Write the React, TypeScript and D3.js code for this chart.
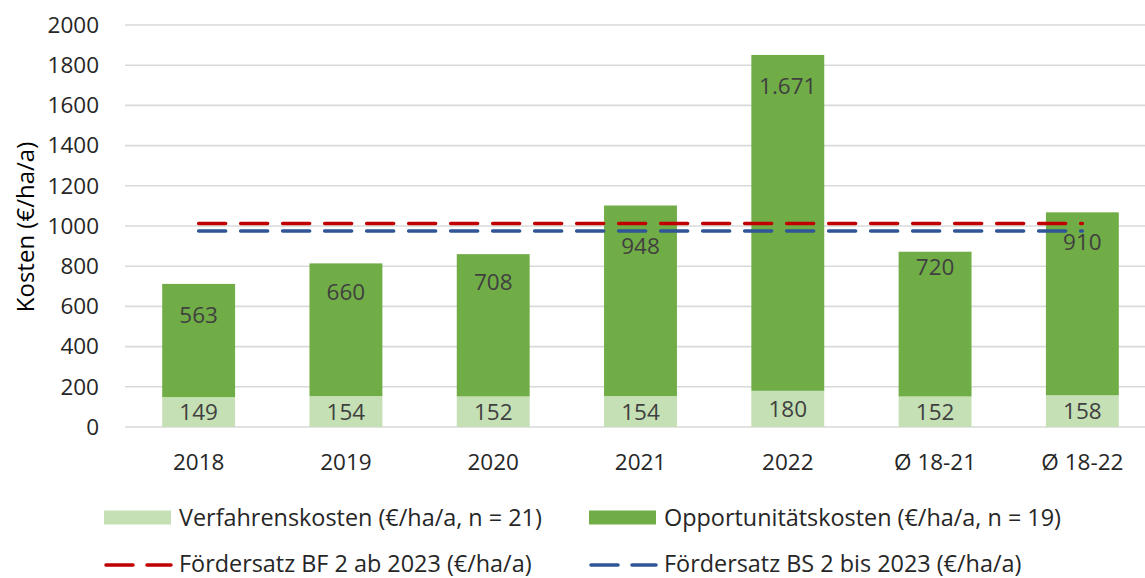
import React from 'react';
import * as d3 from 'd3';

const categories = ['2018', '2019', '2020', '2021', '2022', 'Ø 18-21', 'Ø 18-22'];
const verfahrenskosten = [149, 154, 152, 154, 180, 152, 158];
const opportunitaetskosten = [563, 660, 708, 948, 1671, 720, 910];
const foerdersatzBF = 1013;
const foerdersatzBS = 975;
const yTicks = [0, 200, 400, 600, 800, 1000, 1200, 1400, 1600, 1800, 2000];
const legendBars = ['Verfahrenskosten (€/ha/a, n = 21)', 'Opportunitätskosten (€/ha/a, n = 19)'];
const legendLines = ['Fördersatz BF 2 ab 2023 (€/ha/a)', 'Fördersatz BS 2 bis 2023 (€/ha/a)'];

const W = 1145;
const H = 578;
const font = '"Open Sans", sans-serif';
const colors = { light: '#C5E0B4', dark: '#70AD47', red: '#C00000', blue: '#2F5597', grid: '#D9D9D9' };

// Excel places the labels near the inside end, some of them nudged by hand
const labelDrop = [31, 29, 28, 40, 31, 15, 30];

const de = d3.formatLocale({ decimal: ',', thousands: '.', grouping: [3], currency: ['', ' €'] });
const fmt = de.format(',d');

const App = () => {
  const x = d3.scaleBand<string>().domain(categories).range([125, 1156]).padding(0);
  const y = d3.scaleLinear().domain([0, 2000]).range([427, 25]);
  const barW = x.bandwidth() * 0.495;
  const cx = (c: string) => (x(c) as number) + x.bandwidth() / 2;

  const stacked = categories.map((c, i) => ({
    c,
    v: verfahrenskosten[i],
    o: opportunitaetskosten[i],
  }));

  const line = (val: number) =>
    d3.line<string>().x(c => cx(c)).y(() => y(val))(categories) as string;

  const dash = '27 15';

  return (
    <div style={{ position: 'absolute', left: 0, top: 0 }}>
      <svg width={W} height={H} style={{ display: 'block', background: '#fff' }}>
        {/* gridlines */}
        {yTicks.map(t => (
          <line key={t} x1={125} x2={W} y1={y(t)} y2={y(t)} stroke={colors.grid} strokeWidth={1.6} />
        ))}
        {/* y tick labels */}
        {yTicks.map(t => (
          <text key={'l' + t} x={99} y={y(t)} dy="0.35em" textAnchor="end" fontFamily={font} fontSize={22.5} fill="#262626">
            {t}
          </text>
        ))}
        <text
          transform={`translate(26,227) rotate(-90)`}
          textAnchor="middle"
          dy="0.35em"
          fontFamily={font}
          fontSize={24}
          fill="#000"
        >
          Kosten (€/ha/a)
        </text>

        {/* bars */}
        {stacked.map((d, i) => (
          <g key={d.c}>
            <rect x={cx(d.c) - barW / 2} y={y(d.v)} width={barW} height={y(0) - y(d.v)} fill={colors.light} />
            <rect x={cx(d.c) - barW / 2} y={y(d.v + d.o)} width={barW} height={y(d.v) - y(d.v + d.o)} fill={colors.dark} />
            <text x={cx(d.c)} y={(y(0) + y(d.v)) / 2} dy="0.36em" textAnchor="middle" fontFamily={font} fontSize={22.5} fill="#404040">
              {fmt(d.v)}
            </text>
            <text x={cx(d.c)} y={y(d.v + d.o) + labelDrop[i]} dy="0.36em" textAnchor="middle" fontFamily={font} fontSize={22.5} fill="#404040">
              {fmt(d.o)}
            </text>
          </g>
        ))}

        {/* Fördersatz lines */}
        <path d={line(foerdersatzBF)} fill="none" stroke={colors.red} strokeWidth={3.5} strokeDasharray={dash} strokeLinecap="round" />
        <path d={line(foerdersatzBS)} fill="none" stroke={colors.blue} strokeWidth={3.5} strokeDasharray={dash} strokeLinecap="round" />

        {/* x labels */}
        {categories.map(c => (
          <text key={'x' + c} x={cx(c)} y={462} dy="0.35em" textAnchor="middle" fontFamily={font} fontSize={22.5} fill="#262626">
            {c}
          </text>
        ))}

        {/* legend */}
        {legendBars.map((name, i) => {
          const lx = i === 0 ? 104 : 589;
          return (
            <g key={name}>
              <rect x={lx} y={510.5} width={67} height={14} fill={i === 0 ? colors.light : colors.dark} />
              <text x={lx + 75} y={517.5} dy="0.35em" fontFamily={font} fontSize={23.4} fill="#262626">
                {name}
              </text>
            </g>
          );
        })}
        {legendLines.map((name, i) => {
          const lx = i === 0 ? 104 : 589;
          return (
            <g key={name}>
              <line x1={lx + 2} x2={lx + 67} y1={565} y2={565} stroke={i === 0 ? colors.red : colors.blue} strokeWidth={3.5} strokeDasharray="27 14" strokeLinecap="round" />
              <text x={lx + 75} y={564} dy="0.33em" fontFamily={font} fontSize={23.4} fill="#262626">
                {name}
              </text>
            </g>
          );
        })}
      </svg>
    </div>
  );
};

export default App;
